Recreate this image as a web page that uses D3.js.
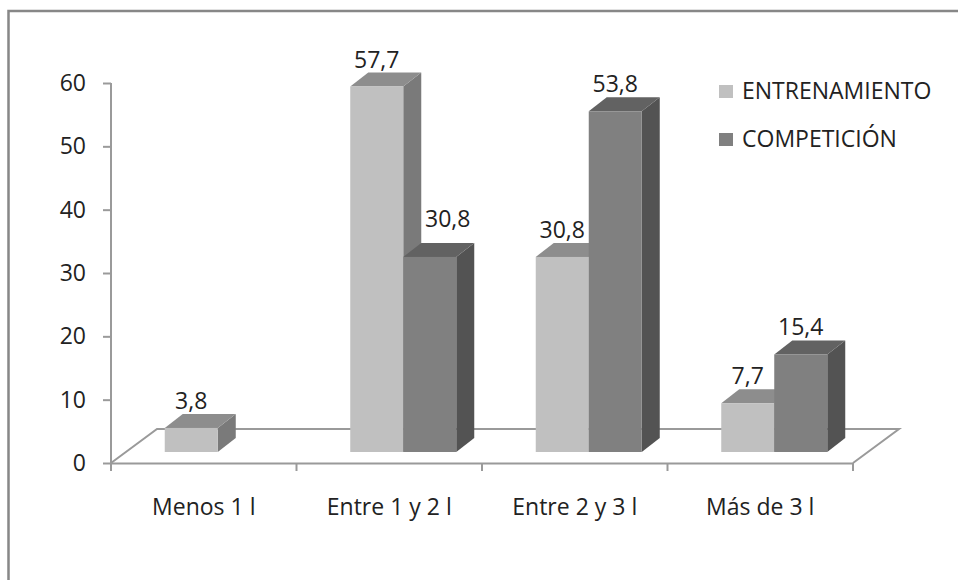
<!DOCTYPE html>
<html>
<head>
<meta charset="utf-8">
<script src="https://cdn.jsdelivr.net/npm/d3@7"></script>
<style>
  body { margin: 0; background: #fff; }
  svg { display: block; }
  text { font-family: "Open Sans", sans-serif; fill: #222; }
</style>
</head>
<body>
<div id="chart"></div>
<script>
// data
var categories = ["Menos 1 l", "Entre 1 y 2 l", "Entre 2 y 3 l", "Más de 3 l"];
var seriesNames = ["ENTRENAMIENTO", "COMPETICIÓN"];
var entrenamiento = [3.8, 57.7, 30.8, 7.7];
var competicion = [null, 30.8, 53.8, 15.4];
var yTicks = [0, 10, 20, 30, 40, 50, 60];

var width = 958, height = 580;
var fontSize = "23px";

// front plane of the floor, and the 3D offsets
var x0 = 111, x1 = 853, yBase = 463, yTop = 83;
var floorDx = 46, floorDy = -34;     // back edge of the floor
var barOffX = 14, barOffY = -11;     // bars stand a bit behind the front edge
var depthX = 18, depthY = -14;       // bar thickness
var barW = 53;

var colors = [
    { front: "#c0c0c0", top: "#8d8d8d", side: "#7a7a7a" },
    { front: "#808080", top: "#626262", side: "#535353" }
];

var svg = d3.select("#chart").append("svg")
    .attr("width", width)
    .attr("height", height);

// outer frame, running past the right and bottom edges
svg.append("rect")
    .attr("x", 8.5).attr("y", 11)
    .attr("width", 1000).attr("height", 1000)
    .attr("fill", "none")
    .attr("stroke", "#878787")
    .attr("stroke-width", 2.5);

var x = d3.scaleBand().domain(categories).range([x0, x1]);
var y = d3.scaleLinear().domain([0, 60]).range([yBase, yTop]);

var axisColor = "#9a9a9a";

// floor
var floor = [
    [x0, yBase], [x0 + floorDx, yBase + floorDy],
    [x1 + floorDx, yBase + floorDy], [x1, yBase]
];
svg.append("path")
    .attr("d", d3.line()(floor))
    .attr("fill", "none")
    .attr("stroke", axisColor)
    .attr("stroke-width", 2);

// front category axis
var xAxis = svg.append("g")
    .attr("transform", "translate(0," + yBase + ")")
    .call(d3.axisBottom(x).tickSize(0).tickFormat(""));
xAxis.select(".domain").attr("stroke", axisColor).attr("stroke-width", 2);
var catEdges = categories.map(function(c) { return x(c); }).concat([x1]);
xAxis.selectAll(".edge").data(catEdges).enter().append("line")
    .attr("x1", function(d) { return d; }).attr("x2", function(d) { return d; })
    .attr("y1", 0).attr("y2", 8)
    .attr("stroke", axisColor).attr("stroke-width", 2);

svg.selectAll(".cat").data(categories).enter().append("text")
    .attr("class", "cat")
    .attr("x", function(d) { return x(d) + x.bandwidth() / 2; })
    .attr("y", 515)
    .attr("text-anchor", "middle")
    .style("font-size", fontSize)
    .text(function(d) { return d; });

// value axis
var yAxis = svg.append("g")
    .attr("transform", "translate(" + x0 + ",0)")
    .call(d3.axisLeft(y).tickValues(yTicks).tickSize(8).tickPadding(17));
yAxis.select(".domain").attr("stroke", axisColor).attr("stroke-width", 2)
    .attr("d", "M0," + yTop + "V" + (yBase + 8));
yAxis.selectAll(".tick line").attr("stroke", axisColor).attr("stroke-width", 2);
yAxis.selectAll(".tick text")
    .style("font-size", fontSize)
    .style("font-family", "'Open Sans', sans-serif")
    .attr("fill", "#222");

// bars
var rows = [];
categories.forEach(function(c, i) {
    [entrenamiento[i], competicion[i]].forEach(function(v, s) {
        if (v == null) return;
        rows.push({ cat: c, s: s, v: v, i: i });
    });
});

var bars = svg.selectAll(".bar").data(rows).enter().append("g").attr("class", "bar");

function geom(d) {
    var cx = x(d.cat) + x.bandwidth() / 2 + barOffX;
    var left = cx - barW + d.s * barW;
    var right = left + barW;
    var bottom = y(0) + barOffY;
    var top = y(d.v) + barOffY;
    return { left: left, right: right, top: top, bottom: bottom };
}

bars.append("path")
    .attr("d", function(d) {
        var g = geom(d);
        return d3.line()([[g.right, g.bottom], [g.right + depthX, g.bottom + depthY],
            [g.right + depthX, g.top + depthY], [g.right, g.top]]) + "Z";
    })
    .attr("fill", function(d) { return colors[d.s].side; });

bars.append("path")
    .attr("d", function(d) {
        var g = geom(d);
        return d3.line()([[g.left, g.top], [g.left + depthX, g.top + depthY],
            [g.right + depthX, g.top + depthY], [g.right, g.top]]) + "Z";
    })
    .attr("fill", function(d) { return colors[d.s].top; });

bars.append("rect")
    .attr("x", function(d) { return geom(d).left; })
    .attr("y", function(d) { return geom(d).top; })
    .attr("width", barW)
    .attr("height", function(d) { var g = geom(d); return g.bottom - g.top; })
    .attr("fill", function(d) { return colors[d.s].front; });

// labels; a label that would sit on a taller neighbour moves to the back and up
bars.append("text")
    .attr("x", function(d) {
        var g = geom(d);
        var cx = (g.left + g.right) / 2;
        if (d.s === 1 && entrenamiento[d.i] > d.v) cx += depthX;
        return cx;
    })
    .attr("y", function(d) {
        var g = geom(d);
        var by = g.top + depthY - 5;
        if (d.s === 1 && entrenamiento[d.i] > d.v) by -= 11;
        return by;
    })
    .attr("text-anchor", "middle")
    .style("font-size", fontSize)
    .text(function(d) { return d3.format(".1f")(d.v).replace(".", ","); });

// legend
var legend = svg.selectAll(".legend").data(seriesNames).enter().append("g")
    .attr("class", "legend")
    .attr("transform", function(d, i) { return "translate(719," + (85 + i * 48) + ")"; });
legend.append("rect")
    .attr("width", 14).attr("height", 13)
    .attr("fill", function(d, i) { return colors[i].front; });
legend.append("text")
    .attr("x", 23).attr("y", 14)
    .style("font-size", fontSize)
    .text(function(d) { return d; });
</script>
</body>
</html>
